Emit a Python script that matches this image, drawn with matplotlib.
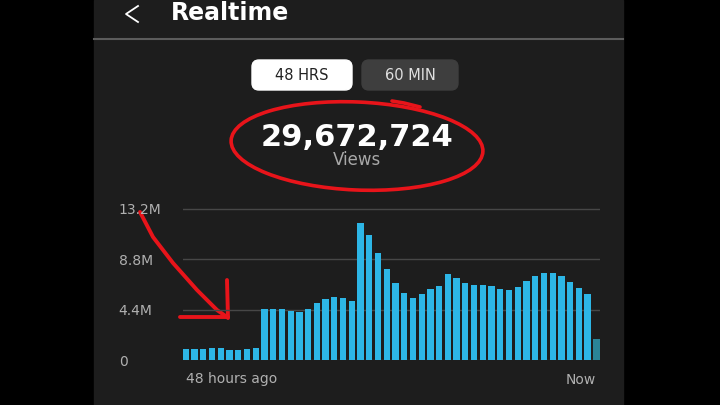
import matplotlib

matplotlib.use("Agg")
import matplotlib.pyplot as plt
from matplotlib.patches import Ellipse, FancyBboxPatch, Rectangle

# hourly views for the last 48 hours, in millions
views_m = [
    0.99, 0.96, 0.96, 1.05, 1.02, 0.90, 0.90, 0.93, 1.08,
    4.49, 4.49, 4.45, 4.27, 4.17, 4.43, 4.96, 5.37, 5.55, 5.45, 5.15,
    12.0, 10.92, 9.33, 7.94, 6.71, 5.86, 5.39, 5.74, 6.18, 6.48,
    7.55, 7.14, 6.72, 6.53, 6.53, 6.48, 6.20, 6.12, 6.36, 6.94,
    7.38, 7.58, 7.58, 7.38, 6.82, 6.33, 5.80, 1.81,
]
y_ticks = [0, 4.4, 8.8, 13.2]
y_tick_labels = ["0", "4.4M", "8.8M", "13.2M"]
x_tick_labels = ["48 hours ago", "Now"]
total_views = "29,672,724"

W, H = 720, 405
PANEL = "#1d1d1d"
BAR = "#2db6e6"
BAR_NOW = "#2a8497"
RED = "#e8141a"

fig = plt.figure(figsize=(W / 100, H / 100), dpi=100)
fig.patch.set_facecolor("black")

# overlay in pixel coords for the app chrome and the red markup
bg = fig.add_axes([0, 0, 1, 1], zorder=0)
bg.set_xlim(0, W)
bg.set_ylim(H, 0)
bg.axis("off")
bg.add_patch(Rectangle((94, 0), 529, H, color=PANEL, zorder=0))
bg.plot([94, 623], [39, 39], color="#5c5c5c", lw=1.5)
bg.plot([138, 126, 138], [6, 14, 22], color="white", lw=1.3)
bg.text(171, 13, "Realtime", color="white", fontsize=17, fontweight="bold",
        va="center", ha="left")

bg.add_patch(FancyBboxPatch((252, 60), 100, 30, color="white",
                            boxstyle="round,pad=0,rounding_size=7"))
bg.text(302, 75, "48 HRS", color="#222222", fontsize=10.5, ha="center", va="center")
bg.add_patch(FancyBboxPatch((362, 60), 96, 30, color="#3e3e3e",
                            boxstyle="round,pad=0,rounding_size=7"))
bg.text(410, 75, "60 MIN", color="#e0e0e0", fontsize=10.5, ha="center", va="center")

bg.text(357, 137, total_views, color="white", fontsize=22, fontweight="bold",
        ha="center", va="center")
bg.text(357, 160, "Views", color="#a8a8a8", fontsize=12, ha="center", va="center")

# red hand-drawn markup
bg.add_patch(Ellipse((357, 146), 252, 88, angle=2.5, fill=False,
                     edgecolor=RED, lw=2.6, zorder=5))
bg.plot([392, 404, 420], [101, 103, 107], color=RED, lw=2.6, solid_capstyle="round")
bg.plot([140, 153, 173, 197, 217, 227], [212, 237, 263, 290, 310, 317],
        color=RED, lw=2.8, solid_capstyle="round", solid_joinstyle="round")
bg.plot([180, 228], [317, 317], color=RED, lw=2.8, solid_capstyle="round")
bg.plot([227, 228], [280, 318], color=RED, lw=2.8, solid_capstyle="round")

# bar chart
top_px, base_px, left_px, right_px = 209, 360, 182.7, 599.5
ymax = 13.3
ax_h = (base_px - top_px) * ymax / 13.2
ax = fig.add_axes([left_px / W, (H - base_px) / H, (right_px - left_px) / W, ax_h / H],
                  zorder=1)
ax.set_facecolor("none")
x = list(range(len(views_m)))
colors = [BAR] * (len(views_m) - 1) + [BAR_NOW]
ax.bar(x, views_m, width=0.72, color=colors, zorder=2)
ax.set_xlim(-0.36, len(views_m) - 0.64)
ax.set_ylim(0, ymax)
ax.set_axisbelow(True)
ax.grid(axis="y", color="#474747", lw=1)
for s in ax.spines.values():
    s.set_visible(False)

ax.set_yticks(y_ticks, y_tick_labels)
ax.tick_params(axis="y", length=0, pad=46, labelsize=10, labelcolor="#b0b0b0")
for lbl in ax.get_yticklabels():
    lbl.set_horizontalalignment("left")

ax.set_xticks([0, len(views_m) - 1], x_tick_labels)
ax.tick_params(axis="x", length=0, pad=9, labelsize=10, labelcolor="#b0b0b0")
xl = ax.get_xticklabels()
xl[0].set_horizontalalignment("left")
xl[1].set_horizontalalignment("right")

fig.savefig("out.png", dpi=100, facecolor=fig.get_facecolor())
